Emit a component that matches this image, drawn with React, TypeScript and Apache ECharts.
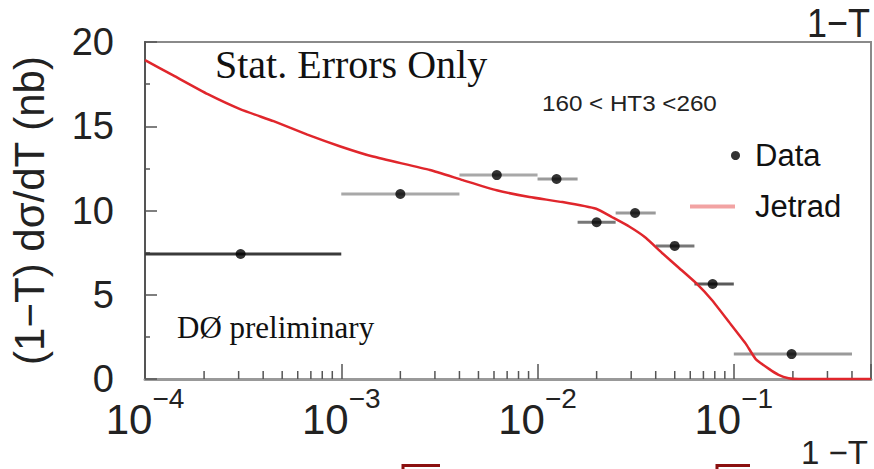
import React, { useEffect, useRef } from 'react';
import * as echarts from 'echarts';

// Data bins (1-T) and measured values
const binLo = [1e-4, 1e-3, 4e-3, 1e-2, 1.6e-2, 2.5e-2, 4e-2, 6.3e-2, 0.1];
const binHi = [1e-3, 4e-3, 1e-2, 1.6e-2, 2.5e-2, 4e-2, 6.3e-2, 0.1, 0.4];
const dataX = [3.07e-4, 2e-3, 6.2e-3, 1.25e-2, 2e-2, 3.14e-2, 5e-2, 7.8e-2, 0.197];
const dataY = [7.42, 10.98, 12.1, 11.87, 9.3, 9.85, 7.9, 5.64, 1.48];

// Jetrad prediction
const jetX = [1e-4, 1.4e-4, 2.09e-4, 3.07e-4, 4.52e-4, 6.72e-4, 9.9e-4, 1.45e-3, 2.83e-3, 4.16e-3, 6.19e-3, 9.1e-3, 1.34e-2, 1.99e-2, 2.4e-2, 2.93e-2, 3.57e-2, 4.31e-2, 5.26e-2, 6.41e-2, 7.73e-2, 9.43e-2, 0.115, 0.129, 0.151, 0.169, 0.19, 0.214, 0.5];
const jetY = [18.93, 18.0, 16.9, 16.0, 15.3, 14.5, 13.8, 13.2, 12.4, 11.8, 11.2, 10.8, 10.5, 10.1, 9.6, 9.05, 8.37, 7.48, 6.59, 5.7, 4.69, 3.4, 2.1, 1.2, 0.6, 0.25, 0.05, 0, 0];

// minor tick positions on the log axis
const minorTicksX = [2e-4, 3e-4, 4e-4, 5e-4, 6e-4, 7e-4, 8e-4, 9e-4, 2e-3, 3e-3, 4e-3, 5e-3, 6e-3, 7e-3, 8e-3, 9e-3, 2e-2, 3e-2, 4e-2, 5e-2, 6e-2, 7e-2, 8e-2, 9e-2, 0.2, 0.3, 0.4];

const xMin = 1e-4;
const xMax = 0.5;
const yMin = 0;
const yMax = 20;
const yInterval = 5;

const barColors = ['#3a3a3a', '#a8a8a8', '#a8a8a8', '#9a9a9a', '#777777', '#9a9a9a', '#777777', '#5a5a5a', '#9a9a9a'];

export default function App() {
  const ref = useRef<HTMLDivElement>(null);
  useEffect(() => {
    if (!ref.current) return;
    const chart = echarts.init(ref.current, null, { renderer: 'svg' });
    const sans = 'Liberation Sans, Arial, sans-serif';
    const serif = 'Liberation Serif, Times New Roman, serif';
    const option: any = {
      animation: false,
      backgroundColor: '#ffffff',
      grid: {
        left: 144, right: 2, top: 42, bottom: 90,
        show: true, borderColor: '#8a8a8a', borderWidth: 2, containLabel: false,
      },
      legend: [
        {
          data: [{ name: 'Data', icon: 'circle' }],
          left: 731, top: 140, padding: 0,
          itemWidth: 9, itemHeight: 9,
          textStyle: { fontFamily: sans, fontSize: 31, color: '#111', padding: [0, 0, 0, 10] },
        },
        {
          data: [{ name: 'Jetrad', icon: 'rect', itemStyle: { color: '#f2a3a3' } }],
          left: 690, top: 191, padding: 0,
          itemWidth: 45, itemHeight: 4,
          textStyle: { fontFamily: sans, fontSize: 31, color: '#111', padding: [0, 0, 0, 15] },
        },
      ],
      xAxis: {
        type: 'log', logBase: 10, min: xMin, max: xMax,
        axisLine: { show: true, lineStyle: { color: '#999', width: 3 } },
        axisTick: { show: true, inside: true, length: 15, lineStyle: { color: '#555', width: 1.5 } },
        splitLine: { show: false },
        axisLabel: {
          margin: 5,
          formatter: (v: number) => {
            const e = Math.log10(v);
            if (Math.abs(e - Math.round(e)) > 1e-6) return '';
            const n = Math.round(e);
            return n < 0 ? `{b|10}{s|\u2212${-n}}` : `{b|10}{s|${n}}`;
          },
          rich: {
            b: { fontFamily: sans, fontSize: 42, color: '#222', padding: [14, 0, 0, 0] },
            s: { fontFamily: sans, fontSize: 28, color: '#222', verticalAlign: 'top' },
          },
        },
      },
      yAxis: {
        type: 'value', min: yMin, max: yMax, interval: yInterval,
        name: '(1\u2212T) d\u03c3/dT (nb)', nameLocation: 'middle', nameGap: 95, nameRotate: 90,
        nameTextStyle: { fontFamily: sans, fontSize: 42, color: '#222' },
        axisLine: { show: true, lineStyle: { color: '#555', width: 2 } },
        axisTick: { show: true, inside: true, length: 12, lineStyle: { color: '#555', width: 1.5 } },
        minorTick: { show: true, splitNumber: 2, length: 5, lineStyle: { color: '#555', width: 1.5 } },
        splitLine: { show: false },
        axisLabel: { fontFamily: sans, fontSize: 38, color: '#222', margin: 31 },
      },
      series: [
        {
          name: 'minorTicks', type: 'custom', silent: true, clip: false,
          data: minorTicksX.map((x) => [x, 0]),
          encode: { x: 0, y: 1 },
          renderItem: (params: any, api: any) => {
            const p = api.coord([api.value(0), yMin]);
            return {
              type: 'line',
              shape: { x1: p[0], y1: p[1], x2: p[0], y2: p[1] - 8 },
              style: { stroke: '#555', lineWidth: 1.5 },
            };
          },
          z: 1,
        },
        {
          name: 'errBars', type: 'custom', silent: true,
          data: binLo.map((lo, i) => [lo, binHi[i], dataY[i]]),
          encode: { x: [0, 1], y: 2 },
          renderItem: (params: any, api: any) => {
            const a = api.coord([api.value(0), api.value(2)]);
            const b = api.coord([api.value(1), api.value(2)]);
            return {
              type: 'line',
              shape: { x1: a[0], y1: a[1], x2: b[0], y2: b[1] },
              style: { stroke: barColors[params.dataIndex], lineWidth: 3 },
            };
          },
          z: 2,
        },
        {
          name: 'Jetrad', type: 'line',
          data: jetX.map((x, i) => [x, jetY[i]]),
          showSymbol: false, smooth: 0.15,
          lineStyle: { color: '#e0262c', width: 2.5 },
          itemStyle: { color: '#e0262c' },
          z: 3,
        },
        {
          name: 'Data', type: 'scatter',
          data: dataX.map((x, i) => [x, dataY[i]]),
          symbol: 'circle', symbolSize: 10,
          itemStyle: { color: '#000' },
          z: 4,
        },
      ],
      graphic: [
        {
          type: 'text', x: 215, y: 64,
          style: { text: 'Stat. Errors Only', font: `40px ${serif}`, fill: '#111', textVerticalAlign: 'middle', textAlign: 'left' },
        },
        {
          type: 'text', x: 177, y: 327,
          style: { text: 'D\u00d8 preliminary', font: `31px ${serif}`, fill: '#111', textVerticalAlign: 'middle', textAlign: 'left' },
        },
        {
          type: 'text', x: 542, y: 103, scaleX: 1.1,
          style: { text: '160 < HT3 <260', font: `22px ${sans}`, fill: '#222', textVerticalAlign: 'middle', textAlign: 'left' },
        },
        {
          type: 'text', x: 870, y: 23, scaleY: 1.15,
          style: { text: '1\u2212T', font: `36px ${sans}`, fill: '#222', textVerticalAlign: 'middle', textAlign: 'right' },
        },
        {
          type: 'text', x: 868, y: 452,
          style: { text: '1 \u2212T', font: `33px ${sans}`, fill: '#222', textVerticalAlign: 'middle', textAlign: 'right' },
        },
        {
          type: 'polyline',
          shape: { points: [[403, 470], [403, 465.5], [440, 465.5]] },
          style: { stroke: '#8b1010', lineWidth: 3, fill: 'none' },
        },
        {
          type: 'polyline',
          shape: { points: [[717, 470], [717, 465.5], [750, 465.5]] },
          style: { stroke: '#8b1010', lineWidth: 3, fill: 'none' },
        },
      ],
    };
    chart.setOption(option);
    return () => chart.dispose();
  }, []);
  return (
    <div
      ref={ref}
      style={{ position: 'absolute', left: 0, top: 0, width: 874, height: 469, background: '#fff' }}
    />
  );
}
